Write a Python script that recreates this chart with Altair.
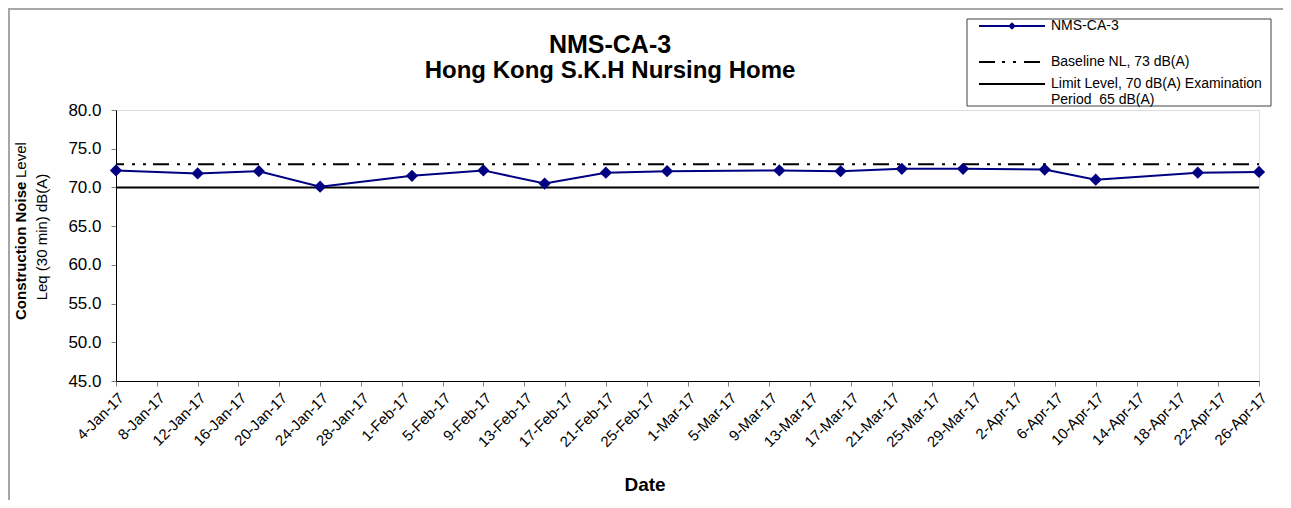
import altair as alt
import pandas as pd

# ---- data ----
dates = ["2017-01-04", "2017-01-12", "2017-01-18", "2017-01-24", "2017-02-02",
         "2017-02-09", "2017-02-15", "2017-02-21", "2017-02-27", "2017-03-10",
         "2017-03-16", "2017-03-22", "2017-03-28", "2017-04-05", "2017-04-10",
         "2017-04-20", "2017-04-26"]
leq = [72.2, 71.8, 72.1, 70.1, 71.5, 72.2, 70.5, 71.9, 72.1, 72.2,
       72.1, 72.4, 72.4, 72.3, 71.0, 71.9, 72.0]
baseline_level = [73]
limit_level = [70]

# x tick dates (month, day) every 4 days, 2017
tick_months = [1, 1, 1, 1, 1, 1, 1, 2, 2, 2, 2, 2, 2, 2, 3, 3, 3, 3, 3, 3, 3, 3,
               4, 4, 4, 4, 4, 4, 4]
tick_days = [4, 8, 12, 16, 20, 24, 28, 1, 5, 9, 13, 17, 21, 25, 1, 5, 9, 13, 17, 21,
             25, 29, 2, 6, 10, 14, 18, 22, 26]
y_ticks = [45, 50, 55, 60, 65, 70, 75, 80]

title_lines = ["NMS-CA-3", "Hong Kong S.K.H Nursing Home"]
legend_labels = ["NMS-CA-3", "Baseline NL, 73 dB(A)",
                 ["Limit Level, 70 dB(A) Examination", "Period \u00a065 dB(A)"]]

FONT = "Liberation Sans"
NAVY = "#000080"

df = pd.DataFrame({"date": [d + "T00:00:00" for d in dates], "leq": leq})
one = pd.DataFrame({"k": [0]})

x_scale = alt.Scale(domain=[alt.DateTime(year=2017, month=1, date=4),
                            alt.DateTime(year=2017, month=4, date=26)])
y_scale = alt.Scale(domain=[45, 80])

x_axis = alt.Axis(
    values=[alt.DateTime(year=2017, month=m, date=d) for m, d in zip(tick_months, tick_days)],
    format="%-d-%b-%y", labelAngle=-45, labelFontSize=15, labelFont=FONT,
    labelColor="black", tickColor="#808080", tickSize=5, domainColor="black",
    grid=False, title=None, labelPadding=4, labelOverlap=False, labelBound=False,
    labelFlush=False)
y_axis = alt.Axis(values=y_ticks, format=".1f", labelFontSize=17, labelFont=FONT,
                  labelColor="black", tickColor="#808080", tickSize=5,
                  domainColor="black", grid=False, title=None, labelPadding=10)

base_rule = alt.Chart(pd.DataFrame({"v": baseline_level})).mark_rule(
    color="black", strokeWidth=2, strokeDash=[16, 7, 3, 8, 3, 8], strokeDashOffset=-10
).encode(y=alt.Y("v:Q", scale=y_scale, axis=y_axis))

limit_rule = alt.Chart(pd.DataFrame({"v": limit_level})).mark_rule(
    color="black", strokeWidth=2
).encode(y=alt.Y("v:Q", scale=y_scale, axis=y_axis))

line = alt.Chart(df).mark_line(color=NAVY, strokeWidth=2).encode(
    x=alt.X("date:T", scale=x_scale, axis=x_axis),
    y=alt.Y("leq:Q", scale=y_scale, axis=y_axis))

pts = alt.Chart(df).mark_point(shape="diamond", filled=True, size=150,
                               color=NAVY, opacity=1).encode(
    x=alt.X("date:T", scale=x_scale, axis=x_axis),
    y=alt.Y("leq:Q", scale=y_scale, axis=y_axis))


def txt(text, x, y, size, weight="normal", align="center", baseline="middle",
        angle=0, line_height=None):
    kw = dict(font=FONT, fontSize=size, fontWeight=weight, align=align,
              baseline=baseline, color="black", angle=angle)
    if line_height:
        kw["lineHeight"] = line_height
    return alt.Chart(one).mark_text(**kw).encode(
        x=alt.value(x), y=alt.value(y), text=alt.value(text))


title1 = txt(title_lines[0], 494, -57, 25, weight="bold", baseline="alphabetic")
title2 = txt(title_lines[1], 494, -32, 24, weight="bold", baseline="alphabetic")
xtitle = txt("Date", 529, 375, 19, weight="bold")
ytitle1a = txt("Construction Noise", -95, 210, 15, weight="bold", align="left", angle=270)
ytitle1b = txt("Level", -95, 68, 15, align="left", angle=270)
ytitle2 = txt("Leq (30 min) dB(A)", -74, 127, 15, angle=270)

# legend box
leg_box = alt.Chart(one).mark_rect(fill="white", stroke="#404040", strokeWidth=1).encode(
    x=alt.value(851), x2=alt.value(1155), y=alt.value(-91), y2=alt.value(-4))
leg_l1 = alt.Chart(one).mark_rule(color=NAVY, strokeWidth=2).encode(
    x=alt.value(863), x2=alt.value(929), y=alt.value(-84))
leg_p1 = alt.Chart(one).mark_point(shape="diamond", filled=True, size=60,
                                   color=NAVY, opacity=1).encode(
    x=alt.value(896), y=alt.value(-84))
leg_l2 = alt.Chart(one).mark_rule(color="black", strokeWidth=2,
                                  strokeDash=[16, 7, 3, 8, 3, 8]).encode(
    x=alt.value(863), x2=alt.value(929), y=alt.value(-48))
leg_l3 = alt.Chart(one).mark_rule(color="black", strokeWidth=2).encode(
    x=alt.value(863), x2=alt.value(929), y=alt.value(-26))
leg_t1 = txt(legend_labels[0], 935, -84, 14, align="left")
leg_t2 = txt(legend_labels[1], 935, -48, 14, align="left")
leg_t3 = txt(legend_labels[2], 935, -26, 14, align="left", baseline="middle",
             line_height=16)

# outer frame (top/left edges)
frame_top = alt.Chart(one).mark_rule(color="#a6a6a6", strokeWidth=2).encode(
    x=alt.value(-108), x2=alt.value(1167), y=alt.value(-101))
frame_left = alt.Chart(one).mark_rule(color="#a6a6a6", strokeWidth=2).encode(
    x=alt.value(-107), y=alt.value(-102), y2=alt.value(390))

chart = alt.layer(
    frame_top, frame_left,
    limit_rule, base_rule, line, pts,
    title1, title2, xtitle, ytitle1a, ytitle1b, ytitle2,
    leg_box, leg_l1, leg_p1, leg_l2, leg_l3, leg_t1, leg_t2, leg_t3,
).properties(
    width=1143, height=271,
    autosize=alt.AutoSizeParams(type="none"),
    padding={"left": 108, "top": 102, "right": 24, "bottom": 119},
).configure_view(stroke=None).configure(font=FONT)

chart.save("out.html", embed_options={"renderer": "svg", "actions": False})
